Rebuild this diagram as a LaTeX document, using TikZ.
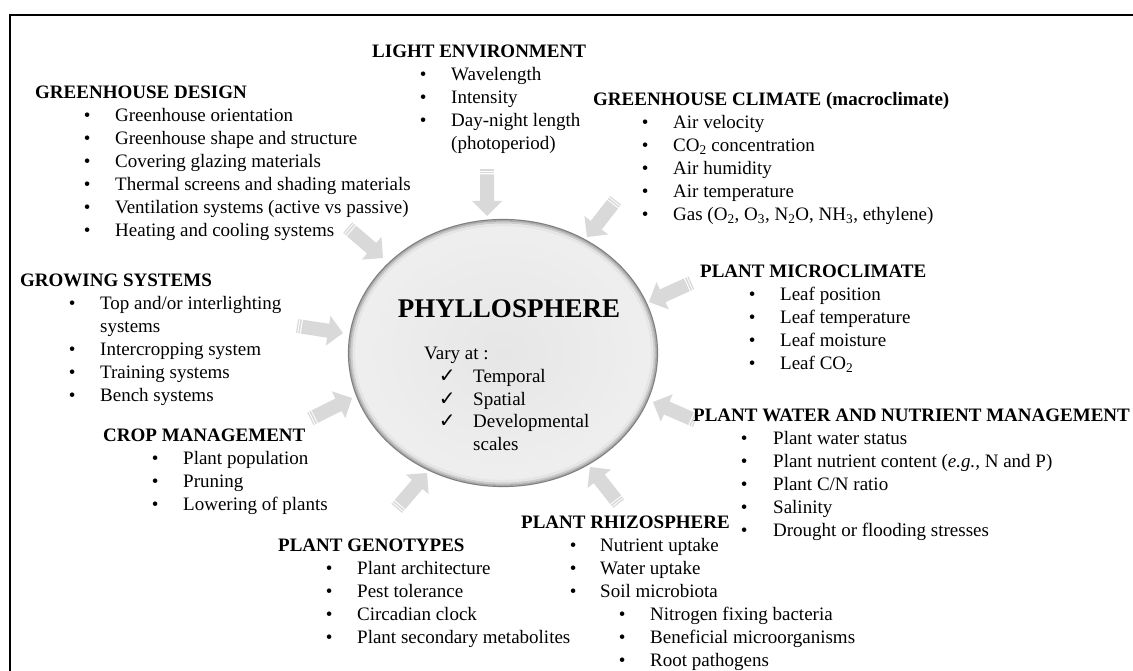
\documentclass[tikz,border=0pt]{standalone}
\usepackage{fontspec}
\setmainfont{Liberation Serif}
\newfontfamily\dejavu{DejaVu Sans}
\usetikzlibrary{shapes.geometric}
\definecolor{arrowgray}{HTML}{D9D9D9}
\definecolor{ellin}{HTML}{E6E6E6}
\definecolor{ellout}{HTML}{EFEFEF}
\newcommand{\itm}[3]{\hspace*{#1pt}\makebox[0pt]{\textbullet}\hspace*{#2pt}#3}
\newcommand{\chk}[3]{\hspace*{#1pt}\makebox[0pt]{\dejavu\fontsize{20}{20}\selectfont ✓}\hspace*{#2pt}#3}
\newcommand{\sub}[1]{\textsubscript{#1}}
\tikzset{
  blk/.style={anchor=base west, inner sep=0pt, font=\fontsize{19}{23}\selectfont},
  barrow/.pic={
    \fill[arrowgray] (-41.5,7) -- (-15,7) -- (-15,15) -- (0,0) -- (-15,-15) -- (-15,-7) -- (-41.5,-7) -- cycle;
    \fill[arrowgray] (-46.5,7) rectangle (-45.3,-7);
    \fill[arrowgray] (-44.2,7) rectangle (-42.7,-7);
  }
}
\begin{document}
\begin{tikzpicture}[x=1pt,y=-1pt]
\fill[white] (0,0) rectangle (1133,671);
\useasboundingbox (0,0) rectangle (1133,671);
\draw[line width=1.6pt] (10,672) -- (10,15) -- (1134,15);

% central ellipse
\node[ellipse, minimum width=310pt, minimum height=268pt, inner sep=0pt, inner color=ellin, outer color=ellout] (ell) at (503,353) {};
\draw[black!10, line width=2.2pt] (ell.center) ellipse [x radius=149pt, y radius=128pt];
\draw[black!20, line width=2pt] (ell.center) ellipse [x radius=151.5pt, y radius=130.5pt];
\draw[black!32, line width=1.6pt] (ell.center) ellipse [x radius=153.2pt, y radius=132.2pt];
\draw[black!50, line width=1.2pt] (ell.center) ellipse [x radius=154.5pt, y radius=133.5pt];
\node[anchor=base, inner sep=0pt, font=\fontsize{27}{30}\selectfont\bfseries] (phyl) at (509,317) {PHYLLOSPHERE};
\node[blk] (vary) at (424,359) {\begin{tabular}[t]{@{}l@{}}
Vary at :\\
\chk{23}{26}{Temporal}\\
\chk{23}{26}{Spatial}\\
\chk{23}{26}{Developmental}\\
\hspace*{49pt}scales
\end{tabular}};

% arrows
\pic[rotate=-90] at (487,216) {barrow};
\pic[rotate=-128] at (587,237) {barrow};
\pic[rotate=-40.7] at (383,258) {barrow};
\pic[rotate=-155.6] at (649,302) {barrow};
\pic[rotate=-8.7] at (343,333) {barrow};
\pic[rotate=26.6] at (352,398) {barrow};
\pic[rotate=156.4] at (653,402) {barrow};
\pic[rotate=49.4] at (427,473) {barrow};
\pic[rotate=128.1] at (590,467) {barrow};

% text blocks
\node[blk] (gd) at (35,99) {\begin{tabular}[t]{@{}l@{}}
\textbf{GREENHOUSE DESIGN}\\
\itm{52}{28}{Greenhouse orientation}\\
\itm{52}{28}{Greenhouse shape and structure}\\
\itm{52}{28}{Covering glazing materials}\\
\itm{52}{28}{Thermal screens and shading materials}\\
\itm{52}{28}{Ventilation systems (active vs passive)}\\
\itm{52}{28}{Heating and cooling systems}
\end{tabular}};

\node[blk] (le) at (372,58) {\begin{tabular}[t]{@{}l@{}}
\textbf{LIGHT ENVIRONMENT}\\
\itm{51}{28}{Wavelength}\\
\itm{51}{28}{Intensity}\\
\itm{51}{28}{Day-night length}\\
\hspace*{79pt}(photoperiod)
\end{tabular}};

\node[blk] (gc) at (593,106) {\begin{tabular}[t]{@{}l@{}}
\textbf{GREENHOUSE CLIMATE (macroclimate)}\\
\itm{52}{28}{Air velocity}\\
\itm{52}{28}{CO\sub{2} concentration}\\
\itm{52}{28}{Air humidity}\\
\itm{52}{28}{Air temperature}\\
\itm{52}{28}{Gas (O\sub{2}, O\sub{3}, N\sub{2}O, NH\sub{3}, ethylene)}
\end{tabular}};

\node[blk] (pm) at (700,278) {\begin{tabular}[t]{@{}l@{}}
\textbf{PLANT MICROCLIMATE}\\
\itm{52}{28}{Leaf position}\\
\itm{52}{28}{Leaf temperature}\\
\itm{52}{28}{Leaf moisture}\\
\itm{52}{28}{Leaf CO\sub{2}}
\end{tabular}};

\node[blk] (pw) at (693,421) {\begin{tabular}[t]{@{}l@{}}
\textbf{PLANT WATER AND NUTRIENT MANAGEMENT}\\
\itm{51}{29}{Plant water status}\\
\itm{51}{29}{Plant nutrient content (\textit{e.g.,} N and P)}\\
\itm{51}{29}{Plant C/N ratio}\\
\itm{51}{29}{Salinity}\\
\itm{51}{29}{Drought or flooding stresses}
\end{tabular}};

\node[blk] (pr) at (521,528) {\begin{tabular}[t]{@{}l@{}}
\textbf{PLANT RHIZOSPHERE}\\
\itm{52}{27}{Nutrient uptake}\\
\itm{52}{27}{Water uptake}\\
\itm{52}{27}{Soil microbiota}\\
\itm{101}{28}{Nitrogen fixing bacteria}\\
\itm{101}{28}{Beneficial microorganisms}\\
\itm{101}{28}{Root pathogens}
\end{tabular}};

\node[blk] (gs) at (20,287) {\begin{tabular}[t]{@{}l@{}}
\textbf{GROWING SYSTEMS}\\
\itm{52}{28}{Top and/or interlighting}\\
\hspace*{80pt}systems\\
\itm{52}{28}{Intercropping system}\\
\itm{52}{28}{Training systems}\\
\itm{52}{28}{Bench systems}
\end{tabular}};

\node[blk] (cm) at (103,441) {\begin{tabular}[t]{@{}l@{}}
\textbf{CROP MANAGEMENT}\\
\itm{52}{28}{Plant population}\\
\itm{52}{28}{Pruning}\\
\itm{52}{28}{Lowering of plants}
\end{tabular}};

\node[blk] (pg) at (278,551) {\begin{tabular}[t]{@{}l@{}}
\textbf{PLANT GENOTYPES}\\
\itm{51}{28}{Plant architecture}\\
\itm{51}{28}{Pest tolerance}\\
\itm{51}{28}{Circadian clock}\\
\itm{51}{28}{Plant secondary metabolites}
\end{tabular}};
\end{tikzpicture}
\end{document}
